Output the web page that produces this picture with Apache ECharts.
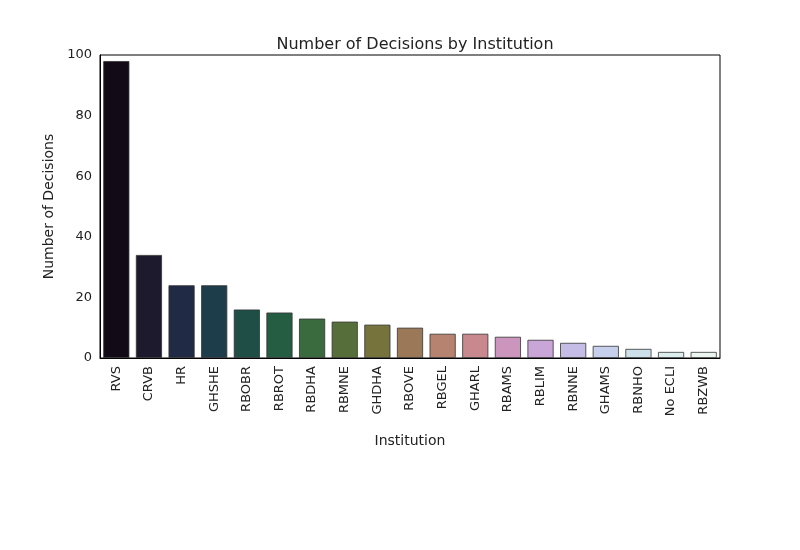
<!DOCTYPE html><html><head><meta charset="utf-8"><script src="https://cdn.jsdelivr.net/npm/echarts@6/dist/echarts.min.js"></script></head><body style="margin:0"><div id="c" style="width:800px;height:550px"></div><script>
const categories=["RVS","CRVB","HR","GHSHE","RBOBR","RBROT","RBDHA","RBMNE","GHDHA","RBOVE","RBGEL","GHARL","RBAMS","RBLIM","RBNNE","GHAMS","RBNHO","No ECLI","RBZWB"];
const values=[98,34,24,24,16,15,13,12,11,10,8,8,7,6,5,4,3,2,2];
const colors=["#120b17","#1d1a2d","#202a44","#1e3d4a","#1e4e46","#255d43","#396b3e","#566f3a","#77733d","#9b7858","#b5836f","#c9888e","#cc95bd","#c9a5d8","#c6bde6","#c6d0ed","#cde0ea","#dceeed","#ecf6f0"];
const f='"DejaVu Sans"';
const ch=echarts.init(document.getElementById('c'));
ch.setOption({
title:{text:'Number of Decisions by Institution',left:410,top:32,textAlign:'center',textStyle:{fontFamily:f,fontSize:16,fontWeight:'normal',color:'#222'}},
grid:{left:100,right:80,top:55,bottom:192,show:true,borderColor:'#000',borderWidth:1},
xAxis:{type:'category',data:categories,name:'Institution',nameLocation:'middle',nameGap:76,nameTextStyle:{fontFamily:f,fontSize:14,color:'#222'},axisTick:{show:false},axisLine:{lineStyle:{color:'#000'}},axisLabel:{rotate:90,fontFamily:f,fontSize:13,color:'#222',interval:0}},
yAxis:{type:'value',min:0,max:100,interval:20,name:'Number of Decisions',nameLocation:'middle',nameGap:42,nameTextStyle:{fontFamily:f,fontSize:14,color:'#222'},splitLine:{show:false},axisLine:{show:true,lineStyle:{color:'#000'}},axisLabel:{fontFamily:f,fontSize:13,color:'#222'}},
series:[{type:'bar',barWidth:'80%',data:values.map((v,i)=>({value:v,itemStyle:{color:colors[i],borderColor:'#333',borderWidth:0.8}}))}]
});
</script></body></html>
